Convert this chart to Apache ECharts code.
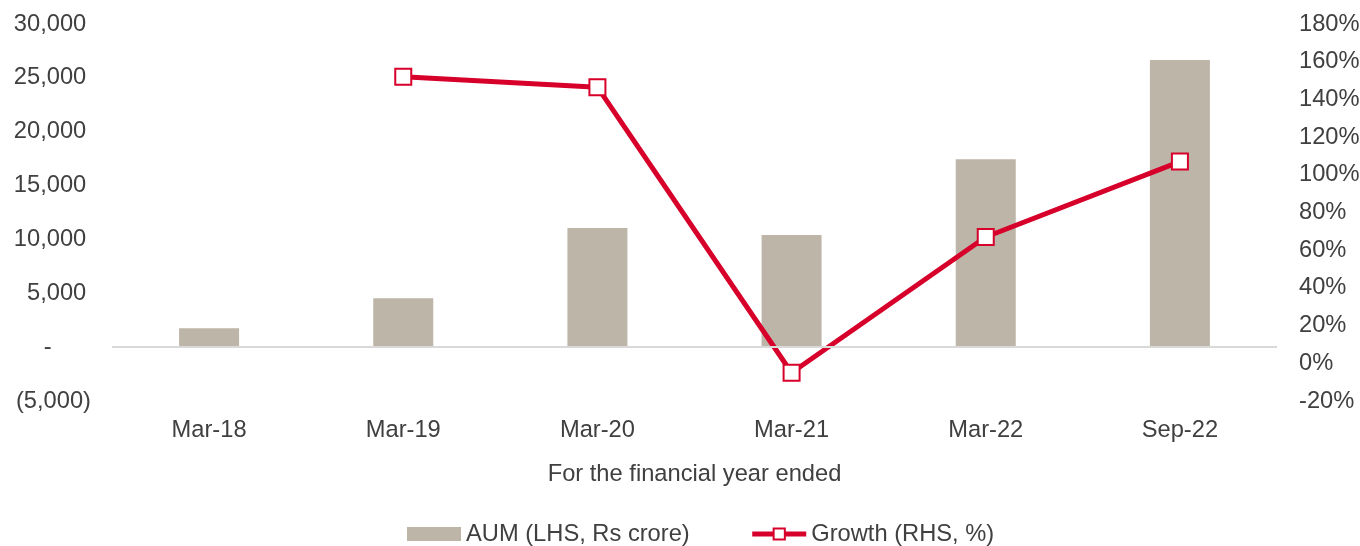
<!DOCTYPE html>
<html>
<head>
<meta charset="utf-8">
<script src="https://cdn.jsdelivr.net/npm/echarts@6/dist/echarts.min.js"></script>
<style>
html,body{margin:0;padding:0;background:#fff;}
#chart{width:1360px;height:546px;}
</style>
</head>
<body>
<div id="chart"></div>
<script>
const categories = ['Mar-18', 'Mar-19', 'Mar-20', 'Mar-21', 'Mar-22', 'Sep-22'];
const aumValues = [1760, 4550, 11050, 10400, 17450, 26650];
const growthValues = [null, 152, 146.5, -5, 67, 107];
const leftTicks = { min: -5000, max: 30000, interval: 5000 };
const rightTicks = { min: -20, max: 180, interval: 20 };
const seriesNames = ['AUM (LHS, Rs crore)', 'Growth (RHS, %)'];
const xAxisName = 'For the financial year ended';

const textColor = '#404040';
const fontFamily = 'Liberation Sans, Arial, sans-serif';
const fs = 23.7;
const redColor = '#D7002B';

function fmtNum(v) {
  return Math.abs(v).toString().replace(/\B(?=(\d{3})+(?!\d))/g, ',');
}

const chart = echarts.init(document.getElementById('chart'), null, { renderer: 'canvas' });
chart.setOption({
  animation: false,
  textStyle: { fontFamily: fontFamily, color: textColor },
  grid: { left: 112, right: 83, top: 24, bottom: 145, containLabel: false, outerBoundsMode: 'none' },
  legend: {
    top: 517,
    left: 402,
    itemWidth: 54,
    itemHeight: 14,
    itemGap: 60,
    textStyle: { fontSize: fs, color: textColor, fontFamily: fontFamily },
    data: [
      { name: seriesNames[0], icon: 'rect' },
      {
        name: seriesNames[1],
        lineStyle: { width: 5, color: redColor },
        itemStyle: { color: '#FFFFFF', borderColor: redColor, borderWidth: 2 }
      }
    ]
  },
  xAxis: {
    type: 'category',
    data: categories,
    axisLine: { show: false },
    axisTick: { show: false },
    axisLabel: { fontSize: fs, color: textColor, margin: 17, fontFamily: fontFamily },
    name: xAxisName,
    nameLocation: 'middle',
    nameGap: 61,
    nameTextStyle: { fontSize: fs, color: textColor, fontFamily: fontFamily }
  },
  yAxis: [
    {
      type: 'value',
      min: leftTicks.min, max: leftTicks.max, interval: leftTicks.interval,
      splitLine: { show: false },
      axisLine: { show: false },
      axisTick: { show: false },
      axisLabel: {
        fontSize: fs, color: textColor, margin: 21, fontFamily: fontFamily,
        formatter: function (v) {
          if (v === 0) return '-      ';
          if (v < 0) return '(' + fmtNum(v) + ')';
          return fmtNum(v) + '\u2009';
        }
      }
    },
    {
      type: 'value',
      min: rightTicks.min, max: rightTicks.max, interval: rightTicks.interval,
      splitLine: { show: false },
      axisLine: { show: false },
      axisTick: { show: false },
      axisLabel: {
        fontSize: fs, color: textColor, margin: 22, fontFamily: fontFamily,
        formatter: function (v) { return v + '%'; }
      }
    }
  ],
  series: [
    {
      name: seriesNames[0],
      type: 'bar',
      yAxisIndex: 0,
      data: aumValues,
      barWidth: 60,
      itemStyle: { color: '#BDB5A8' },
      markLine: {
        silent: true,
        symbol: 'none',
        label: { show: false },
        lineStyle: { color: '#D9D9D9', width: 2, type: 'solid' },
        data: [{ yAxis: 0 }]
      },
      z: 2
    },
    {
      name: seriesNames[1],
      type: 'line',
      yAxisIndex: 1,
      data: growthValues,
      connectNulls: false,
      lineStyle: { color: redColor, width: 5 },
      itemStyle: { color: '#FFFFFF', borderColor: redColor, borderWidth: 2 },
      symbol: 'rect',
      symbolSize: 16,
      showAllSymbol: true,
      z: 3
    }
  ]
});
</script>
</body>
</html>
